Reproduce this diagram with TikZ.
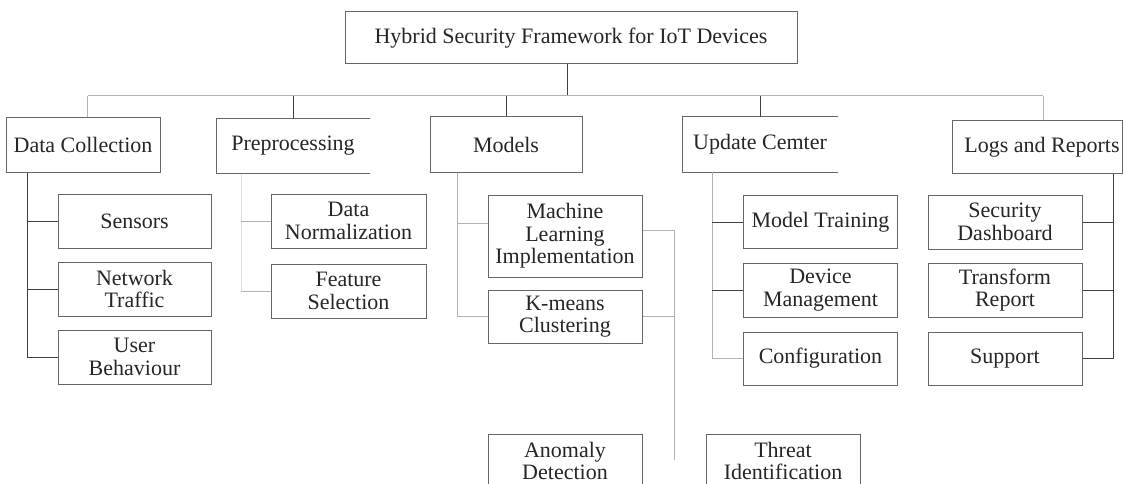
\documentclass[tikz,border=0pt]{standalone}
\usepackage{fontspec}
\setmainfont{Liberation Serif}
\begin{document}
\begin{tikzpicture}[x=1pt,y=-1pt,
  box/.style={draw=black!60, line width=1pt, inner sep=0pt, align=center, text=black!85, font=\fontsize{22}{22.5}\selectfont},
  openbox/.style={box, draw=none},
  dk/.style={draw=black!75, line width=1pt},
  lt/.style={draw=black!30, line width=1pt},
  vlt/.style={draw=black!12, line width=1pt},
  edge3/.style={draw=black!60, line width=1pt}]
\path[use as bounding box, clip] (0,0) rectangle (1124,484);
\fill[white] (0,0) rectangle (1124,484);

% root
\node[box, minimum width=452pt, minimum height=52pt] (top) at (571,38) {Hybrid Security Framework for IoT Devices};

% level 1
\node[box, minimum width=154pt, minimum height=54pt] (dc) at (83,145) {Data Collection};
\node[openbox, minimum width=153pt, minimum height=54pt] (pre) at (293,146) {Preprocessing};
\node[box, minimum width=152pt, minimum height=55pt] (mod) at (506,144.5) {Models};
\node[openbox, minimum width=154pt, minimum height=54pt] (upd) at (760,144.5) {Update Cemter};
\node[box, minimum width=170pt, minimum height=52pt] (logs) at (1037,147) {\hspace*{10pt}Logs and Reports};

% level 2
\node[box, minimum width=153pt, minimum height=54pt] (sens) at (134.5,221) {Sensors};
\node[box, minimum width=153pt, minimum height=54pt] (net) at (134.5,289) {Network\\Traffic};
\node[box, minimum width=153pt, minimum height=54pt] (user) at (134.5,357) {User\\Behaviour};
\node[box, minimum width=155pt, minimum height=54pt] (norm) at (348.5,221) {Data\\Normalization};
\node[box, minimum width=155pt, minimum height=54pt] (feat) at (348.5,291) {Feature\\Selection};
\node[box, minimum width=154pt, minimum height=82pt] (ml) at (565,236) {Machine\\Learning\\Implementation};
\node[box, minimum width=154pt, minimum height=53pt] (km) at (565,316.5) {K-means\\Clustering};
\node[box, minimum width=154pt, minimum height=54pt] (anom) at (565,461) {Anomaly\\Detection};
\node[box, minimum width=154pt, minimum height=54pt] (threat) at (783,461) {Threat\\Identification};
\node[box, minimum width=154pt, minimum height=53pt] (mt) at (820.5,222) {Model Training};
\node[box, minimum width=154pt, minimum height=54pt] (dm) at (820.5,290) {Device\\Management};
\node[box, minimum width=154pt, minimum height=53pt] (conf) at (820.5,358.5) {Configuration};
\node[box, minimum width=154pt, minimum height=54pt] (sd) at (1005,222) {Security\\Dashboard};
\node[box, minimum width=154pt, minimum height=54pt] (tr) at (1005,290) {Transform\\Report};
\node[box, minimum width=154pt, minimum height=53pt] (sup) at (1005,358.5) {Support};

% open boxes (no right edge)
\draw[edge3] (pre.north east) -- (pre.north west) -- (pre.south west) -- (pre.south east);
\draw[edge3] (upd.north east) -- (upd.north west) -- (upd.south west) -- (upd.south east);

% helper coordinates
\coordinate (bus) at (0,96);
\coordinate (dcx) at (27,0);
\coordinate (prex) at (241,0);
\coordinate (modx) at (457,0);
\coordinate (updx) at (712,0);
\coordinate (logx) at (1113,0);
\coordinate (mlend) at (674,460);
\coordinate (topd) at ([xshift=-4pt]top.south);
\coordinate (dcd) at ([xshift=4.5pt]dc.north);
\coordinate (logd) at ([xshift=6pt]logs.north);
\coordinate (mlw) at ([yshift=13pt]ml.west);
\coordinate (mle) at ([yshift=6pt]ml.east);

% top level connectors
\draw[dk] (topd) -- (topd |- bus);
\draw[lt] (dcd |- bus) -- (logd |- bus);
\draw[lt] (dcd) -- (dcd |- bus);
\draw[dk] (pre.north) -- (pre.north |- bus);
\draw[dk] (mod.north) -- (mod.north |- bus);
\draw[dk] (upd.north) -- (upd.north |- bus);
\draw[lt] (logd) -- (logd |- bus);

% data collection
\draw[dk] (dc.south -| dcx) |- (user.west);
\draw[dk] (sens.west) -- (sens.west -| dcx);
\draw[dk] (net.west) -- (net.west -| dcx);

% preprocessing
\draw[vlt] (pre.south -| prex) -- (feat.west -| prex);
\draw[lt] (norm.west) -- (norm.west -| prex);
\draw[lt] (feat.west) -- (feat.west -| prex);

% models
\draw[lt] (mod.south -| modx) |- (km.west);
\draw[lt] (mlw) -- (mlw -| modx);
\draw[lt] (mle) -| (mlend);
\draw[lt] (km.east) -- (km.east -| mlend);

% update center
\draw[lt] (upd.south -| updx) |- (conf.west);
\draw[dk] (mt.west) -- (mt.west -| updx);
\draw[dk] (dm.west) -- (dm.west -| updx);

% logs and reports
\draw[dk] (logs.south -| logx) |- (sup.east);
\draw[dk] (sd.east) -- (sd.east -| logx);
\draw[dk] (tr.east) -- (tr.east -| logx);
\end{tikzpicture}
\end{document}
